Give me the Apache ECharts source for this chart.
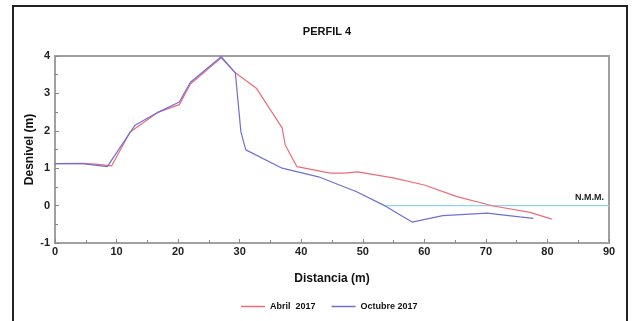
<!DOCTYPE html>
<html>
<head>
<meta charset="utf-8">
<script src="https://cdn.jsdelivr.net/npm/echarts@6/dist/echarts.min.js"></script>
<style>
  html, body { margin: 0; padding: 0; background: #fff; }
  #chart { width: 633px; height: 321px; }
</style>
</head>
<body>
<div id="chart"></div>
<script>
// profile points: [distance (m), elevation (m)]
const abril2017 = [
  [0, 1.12], [4.5, 1.13], [7, 1.1], [9.2, 1.06], [12.2, 1.97], [16.8, 2.5],
  [20.2, 2.7], [22, 3.25], [27, 3.95], [29.3, 3.55], [32.7, 3.14], [36.9, 2.08],
  [37.4, 1.62], [39.3, 1.04], [44.7, 0.87], [47, 0.87], [49.2, 0.9], [54.9, 0.74],
  [60, 0.55], [65.3, 0.24], [71.2, -0.01], [77.2, -0.18], [80.7, -0.36]
];
const octubre2017 = [
  [0, 1.12], [4.5, 1.12], [8.5, 1.04], [13, 2.15], [16.8, 2.5], [20.2, 2.77],
  [22, 3.3], [27, 3.98], [29.3, 3.55], [30.2, 1.97], [31, 1.49], [36.9, 1.0],
  [42.8, 0.77], [49, 0.37], [53.3, 0.02], [58, -0.44], [63, -0.27], [70.2, -0.2],
  [75.5, -0.3], [77.7, -0.34]
];
const nmm = [[53.3, 0], [90, 0]];
const seriesNames = ["Abril  2017", "Octubre 2017"];

const chart = echarts.init(document.getElementById("chart"));
const font = "Arial, 'Liberation Sans', sans-serif";

chart.setOption({
  animation: false,
  backgroundColor: "#fff",
  textStyle: { fontFamily: font },
  title: {
    text: "PERFIL 4",
    left: 322,
    textAlign: "center",
    top: 21,
    textStyle: { fontSize: 11, fontWeight: "bold", color: "#111", fontFamily: font }
  },
  graphic: [{
    type: "rect",
    shape: { x: 13, y: 6, width: 614, height: 330 },
    style: { fill: "none", stroke: "#222", lineWidth: 2 },
    silent: true
  }],
  legend: {
    data: seriesNames,
    left: 236,
    top: 297,
    icon: "rect",
    itemWidth: 24,
    itemHeight: 1.5,
    itemGap: 16,
    textStyle: { fontSize: 9, fontWeight: "bold", color: "#111", fontFamily: font }
  },
  grid: {
    left: 55, right: 24, top: 56, bottom: 78,
    show: true, borderColor: "#a0a0a0", borderWidth: 2, backgroundColor: "#fff"
  },
  xAxis: {
    type: "value",
    min: 0, max: 90, interval: 10,
    name: "Distancia (m)",
    nameLocation: "middle",
    nameGap: 30,
    nameMoveOverlap: false,
    nameTextStyle: { fontSize: 12, fontWeight: "bold", color: "#111" },
    axisLine: { onZero: false, lineStyle: { color: "#a0a0a0", width: 2 } },
    axisTick: { inside: true, length: 4, lineStyle: { color: "#888" } },
    minorTick: { show: true, splitNumber: 2, length: 3, lineStyle: { color: "#888" } },
    axisLabel: { fontSize: 11, fontWeight: "bold", color: "#222", margin: 3 },
    splitLine: { show: false }
  },
  yAxis: {
    type: "value",
    min: -1, max: 4, interval: 1,
    name: "Desnivel (m)",
    nameLocation: "middle",
    nameGap: 19,
    nameMoveOverlap: false,
    nameTextStyle: { fontSize: 12, fontWeight: "bold", color: "#111" },
    axisLine: { show: true, onZero: false, lineStyle: { color: "#a0a0a0", width: 2 } },
    axisTick: { show: true, inside: true, length: 4, lineStyle: { color: "#888" } },
    minorTick: { show: true, splitNumber: 2, length: 3, lineStyle: { color: "#888" } },
    axisLabel: { fontSize: 11, fontWeight: "bold", color: "#222", margin: 5 },
    splitLine: { show: false }
  },
  series: [
    {
      name: "N.M.M.",
      type: "line",
      data: nmm,
      symbol: "none",
      lineStyle: { color: "#8fd6f2", width: 1.2 },
      endLabel: {
        show: true,
        formatter: "N.M.M.",
        distance: 0,
        offset: [-34, -8],
        fontSize: 9,
        fontWeight: "bold",
        color: "#222"
      },
      z: 1
    },
    {
      name: seriesNames[0],
      type: "line",
      data: abril2017,
      symbol: "none",
      lineStyle: { color: "#ee6b78", width: 1.2 },
      itemStyle: { color: "#ee6b78" },
      z: 2
    },
    {
      name: seriesNames[1],
      type: "line",
      data: octubre2017,
      symbol: "none",
      lineStyle: { color: "#6f6fd8", width: 1.2 },
      itemStyle: { color: "#6f6fd8" },
      z: 3
    }
  ]
});
</script>
</body>
</html>
